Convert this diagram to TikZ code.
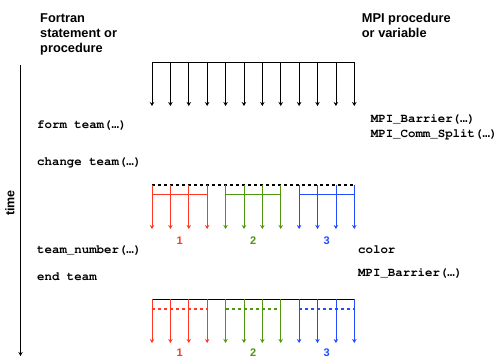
\documentclass[tikz,border=0pt]{standalone}
\usepackage[T1,TU]{fontenc}
\usepackage{fontspec}
\setmainfont{Liberation Sans}
\setmonofont{Liberation Mono}
\usetikzlibrary{arrows.meta}
\definecolor{tred}{RGB}{255,55,35}
\definecolor{tgreen}{RGB}{80,150,15}
\definecolor{tblue}{RGB}{35,75,255}
\newcommand\myell{{\fontencoding{TU}\ttfamily\bfseries …}}
\begin{document}
\begin{tikzpicture}[x=1pt,y=-1pt,
  head/.style={font=\fontsize{12.8}{15}\selectfont\bfseries, align=left, anchor=north west, inner sep=0},
  code/.style={font=\fontsize{12.4}{14}\fontencoding{T1}\fontfamily{pcr}\fontseries{b}\selectfont, anchor=mid west, inner sep=0},
  num/.style={font=\fontsize{11}{13}\selectfont\bfseries, inner sep=0},
  proc/.style={line width=0.8pt, -{Stealth[length=4pt,width=4.5pt]}},
  bar/.style={line width=0.9pt},
  dbar/.style={line width=1.2pt, dash pattern=on 3pt off 3pt},
]
\useasboundingbox (0,0) rectangle (498,358);

% headers
\node[head] (hl) at (40,13.3) {Fortran\\statement or\\procedure};
\node[head] (hr) at (361.7,13.3) {MPI procedure\\or variable};

% time axis
\coordinate (ta) at (20.5,65);
\coordinate (tb) at (20.5,356);
\draw[line width=0.9pt, -{Stealth[length=4pt,width=4.5pt]}] (ta) -- (tb);
\node[font=\fontsize{12.5}{14}\selectfont\bfseries, rotate=90, inner sep=0] (time) at (10,203) {time};

% code labels
\node[code] (c1) at (37,125.5) {form team(\myell)};
\node[code] (c2) at (37,162.5) {change team(\myell)};
\node[code] (c3) at (37,250.5) {team\_number(\myell)};
\node[code] (c4) at (37,277.5) {end team};
\node[code] (m1) at (370.7,119.5) {MPI\_Barrier(\myell)};
\node[code] (m2) at (370.7,134.5) {MPI\_Comm\_Split(\myell)};
\node[code] (m3) at (358,250.5) {color};
\node[code] (m4) at (358,273.5) {MPI\_Barrier(\myell)};

% coordinates for the 12 processes
\foreach \i in {0,...,11} {
  \pgfmathsetmacro{\xx}{152+\i*18.39}
  \coordinate (a\i) at (\xx,62);
  \coordinate (ae\i) at (\xx,106);
  \coordinate (b\i) at (\xx,185);
  \coordinate (bh\i) at (\xx,194.3);
  \coordinate (be\i) at (\xx,229);
  \coordinate (c\i) at (\xx,299);
  \coordinate (ch\i) at (\xx,309);
  \coordinate (ce\i) at (\xx,343);
}

% top: all processes together
\draw[bar] (a0) -- (a11);
\foreach \i in {0,...,11} { \draw[proc] (a\i) -- (ae\i); }

% middle: change team
\draw[dbar, black] (b0) -- (b11);
\foreach \g/\col in {0/tred,1/tgreen,2/tblue} {
  \pgfmathtruncatemacro{\f}{4*\g}
  \pgfmathtruncatemacro{\l}{4*\g+3}
  \draw[bar, \col] (bh\f) -- (bh\l);
  \foreach \j in {0,...,3} {
    \pgfmathtruncatemacro{\k}{4*\g+\j}
    \draw[proc, \col] (b\k) -- (be\k);
  }
}

% bottom: end team
\draw[bar, black] (c0) -- (c11);
\foreach \g/\col in {0/tred,1/tgreen,2/tblue} {
  \pgfmathtruncatemacro{\f}{4*\g}
  \pgfmathtruncatemacro{\l}{4*\g+3}
  \draw[dbar, \col] (ch\f) -- (ch\l);
  \foreach \j in {0,...,3} {
    \pgfmathtruncatemacro{\k}{4*\g+\j}
    \draw[proc, \col] (c\k) -- (ce\k);
  }
}

% team numbers
\node[num, text=tred]   (n1) at (179.6,240.7) {1};
\node[num, text=tgreen] (n2) at (253.2,240.7) {2};
\node[num, text=tblue]  (n3) at (326.7,240.7) {3};
\node[num, text=tred]   (p1) at (179.6,353) {1};
\node[num, text=tgreen] (p2) at (253.2,353) {2};
\node[num, text=tblue]  (p3) at (326.7,353) {3};
\end{tikzpicture}
\end{document}
